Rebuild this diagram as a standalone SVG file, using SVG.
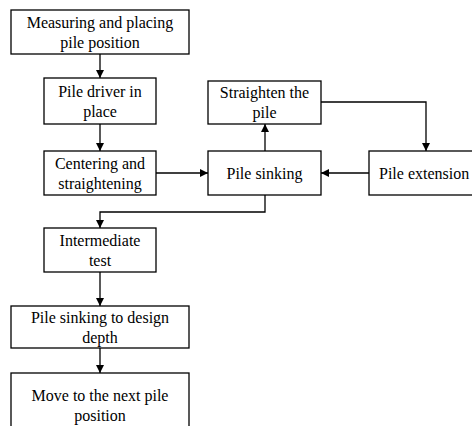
<svg xmlns="http://www.w3.org/2000/svg" width="472" height="426" viewBox="0 0 472 426">
<style>
.box{fill:#fff;stroke:#000;stroke-width:1.3}
.t{font-family:"Times New Roman",Times,"Liberation Serif","Nimbus Roman","DejaVu Serif","Noto Serif",serif;font-size:16px;fill:#000;text-anchor:middle}
.c{fill:none;stroke:#000;stroke-width:1.3}
</style>
<defs>
<marker id="ah" viewBox="0 0 10 10" refX="10" refY="5" markerWidth="8" markerHeight="8" markerUnits="userSpaceOnUse" orient="auto">
<path d="M0,0 L10,5 L0,10 z" fill="#000"/>
</marker>
</defs>
<rect width="472" height="426" fill="#fff"/>
<g id="connectors">
<line class="c" x1="100" y1="54" x2="100" y2="78" marker-end="url(#ah)"/>
<line class="c" x1="100" y1="124" x2="100" y2="151" marker-end="url(#ah)"/>
<line class="c" x1="156" y1="173" x2="208" y2="173" marker-end="url(#ah)"/>
<line class="c" x1="265" y1="151" x2="265" y2="124" marker-end="url(#ah)"/>
<polyline class="c" points="321,102 426,102 426,151" marker-end="url(#ah)"/>
<line class="c" x1="369" y1="173" x2="321" y2="173" marker-end="url(#ah)"/>
<polyline class="c" points="265,195 265,212 100,212 100,228" marker-end="url(#ah)"/>
<line class="c" x1="100" y1="272" x2="100" y2="306" marker-end="url(#ah)"/>
<line class="c" x1="100" y1="348" x2="100" y2="373" marker-end="url(#ah)"/>
</g>
<g id="measuring">
<rect class="box" x="11" y="10" width="178" height="44"/>
<text class="t" x="100" y="28">Measuring and placing</text>
<text class="t" x="100" y="48">pile position</text>
</g>
<g id="driver">
<rect class="box" x="44" y="78" width="112" height="46"/>
<text class="t" x="100" y="97">Pile driver in</text>
<text class="t" x="100" y="117">place</text>
</g>
<g id="centering">
<rect class="box" x="44" y="151" width="112" height="44"/>
<text class="t" x="100" y="169">Centering and</text>
<text class="t" x="100" y="189">straightening</text>
</g>
<g id="straighten">
<rect class="box" x="208" y="81" width="113" height="43"/>
<text class="t" x="264.5" y="98">Straighten the</text>
<text class="t" x="264.5" y="118">pile</text>
</g>
<g id="sinking">
<rect class="box" x="208" y="151" width="113" height="44"/>
<text class="t" x="264.5" y="178.5">Pile sinking</text>
</g>
<g id="extension">
<rect class="box" x="369" y="151" width="120" height="44"/>
<text class="t" x="379" y="178.5" style="text-anchor:start">Pile extension</text>
</g>
<g id="intermediate">
<rect class="box" x="44" y="228" width="112" height="44"/>
<text class="t" x="100" y="246">Intermediate</text>
<text class="t" x="100" y="266">test</text>
</g>
<g id="design">
<rect class="box" x="11" y="306" width="178" height="42"/>
<text class="t" x="100" y="323">Pile sinking to design</text>
<text class="t" x="100" y="343">depth</text>
</g>
<g id="move">
<rect class="box" x="11" y="373" width="178" height="66"/>
<text class="t" x="100" y="401">Move to the next pile</text>
<text class="t" x="100" y="421">position</text>
</g>
</svg>
